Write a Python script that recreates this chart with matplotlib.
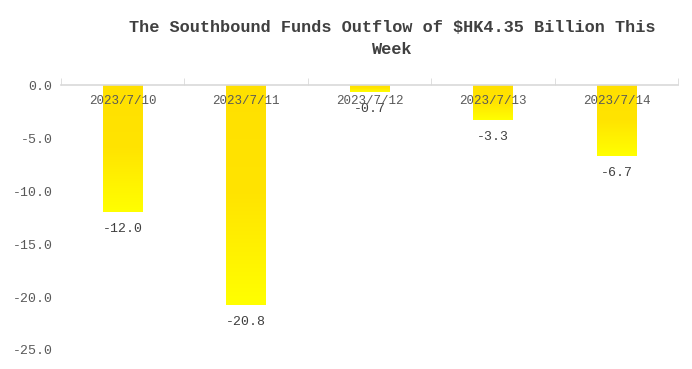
import numpy as np
import matplotlib.pyplot as plt
from matplotlib.colors import LinearSegmentedColormap

# data
dates = ['2023/7/10', '2023/7/11', '2023/7/12', '2023/7/13', '2023/7/14']
flows = [-12.0, -20.8, -0.7, -3.3, -6.7]

plt.rcParams['font.family'] = ['Liberation Mono', 'DejaVu Sans Mono']

fig = plt.figure(figsize=(6.92, 3.69), dpi=100)
ax = fig.add_axes([0.088, 0.0515, 0.892, 0.718])

x = np.arange(len(dates))
bars = ax.bar(x, flows, width=0.32, color='none', edgecolor='none')

# gold -> yellow gradient inside each bar
cmap = LinearSegmentedColormap.from_list('gy', ['#FFE000', '#FFE400', '#FFFF00'])
grad = np.linspace(0, 1, 256).reshape(-1, 1)
for b in bars:
    x0 = b.get_x()
    x1 = x0 + b.get_width()
    y0 = b.get_y() + b.get_height()
    im = ax.imshow(grad, extent=[x0, x1, y0, 0], aspect='auto', cmap=cmap,
                   origin='upper', zorder=2)
    im.set_clip_path(b)

for xi, v in zip(x, flows):
    ax.annotate(f'{v:.1f}', (xi, v), xytext=(0, -12), textcoords='offset points',
                ha='center', va='center', fontsize=9.5, color='#404040', zorder=3)

ax.set_xlim(-0.5, len(dates) - 0.5)
ax.set_ylim(-25, 0)
ax.set_yticks(np.arange(-25, 0.1, 5))
ax.set_yticklabels([f'{t:.1f}' for t in np.arange(-25, 0.1, 5)])

ax.xaxis.tick_top()
ax.set_xticks(x)
ax.set_xticklabels(dates)
ax.set_xticks(np.arange(-0.5, len(dates), 1), minor=True)
ax.tick_params(axis='x', which='major', length=0, pad=-16, labelsize=9,
               labelcolor='#595959', labeltop=True, labelbottom=False, top=True)
ax.tick_params(axis='x', which='minor', length=5, color='#D9D9D9', top=True,
               direction='out', bottom=False)
ax.tick_params(axis='y', length=0, labelsize=9.5, labelcolor='#595959', pad=6)
ax.xaxis.set_zorder(5)

for s in ['left', 'right', 'bottom']:
    ax.spines[s].set_visible(False)
ax.spines['top'].set_color('#D9D9D9')
ax.spines['top'].set_linewidth(1.2)

fig.text(0.567, 0.895, 'The Southbound Funds Outflow of $HK4.35 Billion This\nWeek',
         ha='center', va='center', fontsize=12.2, color='#404040',
         fontweight='semibold', linespacing=1.6)

fig.savefig('out.png', dpi=100)
